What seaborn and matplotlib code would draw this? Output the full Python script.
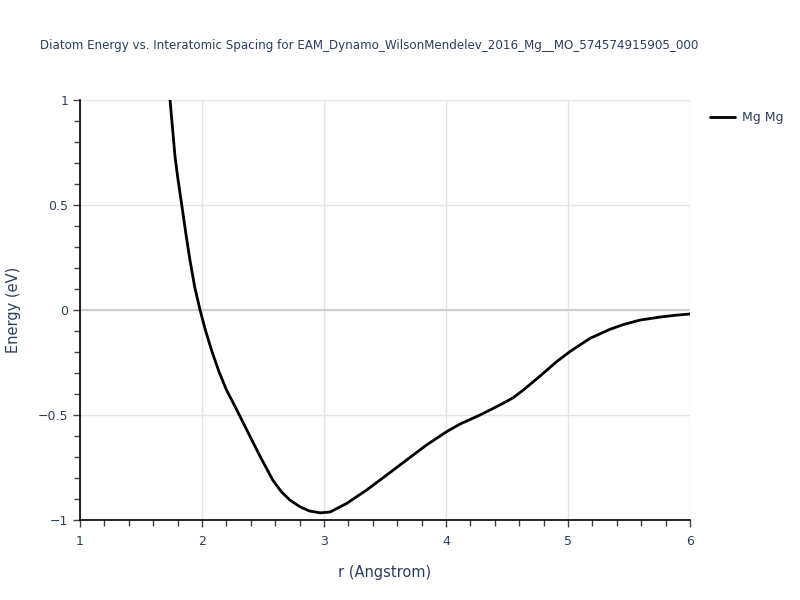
import matplotlib
matplotlib.use("Agg")
import matplotlib.pyplot as plt
import seaborn as sns
import pandas as pd
from matplotlib.ticker import MultipleLocator, FuncFormatter

r_vals = [1.738, 1.779, 1.80, 1.834, 1.87, 1.902, 1.94, 1.984, 2.03, 2.08, 2.14,
          2.20, 2.28, 2.366, 2.47, 2.58, 2.65, 2.72, 2.803, 2.88, 2.967, 3.05, 3.186,
          3.35, 3.50, 3.623, 3.84, 4.006, 4.115, 4.279, 4.361, 4.443, 4.55, 4.634,
          4.77, 4.907, 5.016, 5.18, 5.344, 5.45, 5.59, 5.75, 5.88, 6.0]
energy_vals = [1.0, 0.73, 0.635, 0.50, 0.355, 0.235, 0.11, 0.0, -0.10, -0.195, -0.295,
               -0.38, -0.47, -0.57, -0.69, -0.81, -0.865, -0.905, -0.937, -0.957, -0.966,
               -0.962, -0.921, -0.857, -0.792, -0.738, -0.643, -0.579, -0.543, -0.50,
               -0.476, -0.452, -0.418, -0.381, -0.315, -0.246, -0.198, -0.135, -0.092,
               -0.07, -0.048, -0.034, -0.025, -0.019]
series_name = "Mg Mg"
title = "Diatom Energy vs. Interatomic Spacing for EAM_Dynamo_WilsonMendelev_2016_Mg__MO_574574915905_000"

df = pd.DataFrame({"r": r_vals, "E": energy_vals, "pair": series_name})

sns.set_theme(style="white")
plt.rcParams['font.family'] = ['DejaVu Sans']
txt = "#2a3f5f"

fig = plt.figure(figsize=(8, 6), dpi=100)
ax = fig.add_axes([0.1, 1 - 520 / 600, 0.7625, 420 / 600])

ax.set_xlim(1, 6)
ax.set_ylim(-1, 1)
ax.xaxis.set_major_locator(MultipleLocator(1))
ax.xaxis.set_minor_locator(MultipleLocator(0.2))
ax.yaxis.set_major_locator(MultipleLocator(0.5))
ax.yaxis.set_minor_locator(MultipleLocator(0.1))


def fmt(v, _):
    s = f"{v:g}"
    return s.replace("-", "\u2212")


ax.yaxis.set_major_formatter(FuncFormatter(fmt))
ax.xaxis.set_major_formatter(FuncFormatter(fmt))
ax.grid(True, which="major", color="#e3e3e3", linewidth=1)
ax.axhline(0, color="#cccccc", linewidth=1.5, zorder=1)

sns.lineplot(data=df, x="r", y="E", hue="pair", palette=["black"], ax=ax,
             linewidth=2, sort=False, estimator=None, zorder=3)

for s in ["top", "right"]:
    ax.spines[s].set_visible(False)
for s in ["left", "bottom"]:
    ax.spines[s].set_visible(True)
    ax.spines[s].set_color("black")
    ax.spines[s].set_linewidth(1.2)

ax.tick_params(axis="both", which="both", direction="out", color="#444444",
               labelcolor=txt, labelsize=9, bottom=True, left=True)
ax.tick_params(which="major", length=5, width=1)
ax.tick_params(which="minor", length=4, width=1)
ax.tick_params(axis="x", pad=6)

ax.set_xlabel("r (Angstrom)", color=txt, fontsize=10.5, labelpad=12)
ax.set_ylabel("Energy (eV)", color=txt, fontsize=10.5, labelpad=12)

fig.text(0.05, 1 - 45 / 600, title, color=txt, fontsize=8.6, va="center", ha="left")

leg = ax.legend(loc="upper left", bbox_to_anchor=(1.015, 1.0), frameon=False,
                fontsize=9, handlelength=2.0, handletextpad=0.5)
for t in leg.get_texts():
    t.set_color(txt)

fig.savefig("out.png", dpi=100)
